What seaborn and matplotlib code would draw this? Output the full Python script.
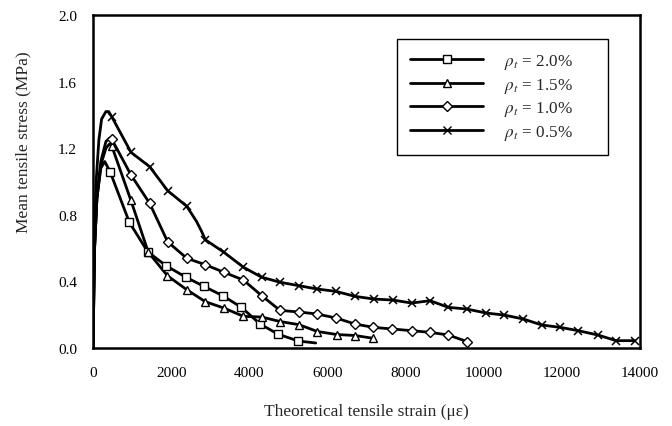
import numpy as np
import pandas as pd
import matplotlib
matplotlib.use('Agg')
import matplotlib.pyplot as plt
from matplotlib.lines import Line2D
import seaborn as sns

# Mean tensile stress vs theoretical tensile strain, four reinforcement ratios
labels = [r'$\rho_t$ = 2.0%', r'$\rho_t$ = 1.5%', r'$\rho_t$ = 1.0%', r'$\rho_t$ = 0.5%']
marker_styles = ['s', '^', 'D', 'x']

# curve points without markers (rising branch, bends, tails)
sq_line_x = [0, 40, 100, 200, 300, 5700]
sq_line_y = [0.0, 0.6, 0.9, 1.08, 1.12, 0.03]
sq_mark_x = [435, 930, 1400, 1870, 2380, 2840, 3320, 3800, 4275, 4745, 5255]
sq_mark_y = [1.06, 0.755, 0.578, 0.494, 0.425, 0.37, 0.314, 0.244, 0.144, 0.082, 0.042]

tr_line_x = [0, 40, 100, 200, 330, 420]
tr_line_y = [0.0, 0.6, 0.9, 1.1, 1.2, 1.225]
tr_mark_x = [478, 965, 1415, 1905, 2400, 2875, 3350, 3850, 4318, 4786, 5273, 5742, 6236, 6706, 7175]
tr_mark_y = [1.215, 0.89, 0.575, 0.434, 0.35, 0.278, 0.24, 0.19, 0.186, 0.159, 0.14, 0.099, 0.081, 0.075, 0.058]

di_line_x = [0, 40, 100, 200, 330, 420]
di_line_y = [0.0, 0.6, 0.9, 1.12, 1.24, 1.26]
di_mark_x = [478, 973, 1450, 1910, 2400, 2875, 3350, 3850, 4318, 4786, 5273, 5742, 6220,
             6706, 7175, 7660, 8155, 8626, 9095, 9580]
di_mark_y = [1.255, 1.039, 0.869, 0.638, 0.539, 0.5, 0.455, 0.408, 0.314, 0.226, 0.216, 0.204, 0.18,
             0.144, 0.124, 0.114, 0.104, 0.094, 0.078, 0.038]

cr_line_x = [0, 30, 80, 150, 220, 330, 400, 2650, 2780]
cr_line_y = [0.0, 0.6, 1.0, 1.25, 1.375, 1.42, 1.42, 0.76, 0.70]
cr_mark_x = [478, 973, 1450, 1910, 2400, 2875, 3350, 3850, 4318, 4786, 5273, 5742, 6220, 6706,
             7190, 7670, 8155, 8626, 9095, 9565, 10060, 10520, 11015, 11485, 11955, 12420,
             12920, 13390, 13870]
cr_mark_y = [1.39, 1.175, 1.089, 0.945, 0.851, 0.65, 0.575, 0.485, 0.425, 0.395, 0.374, 0.354, 0.34, 0.31,
             0.294, 0.288, 0.27, 0.284, 0.244, 0.234, 0.21, 0.198, 0.174, 0.138, 0.124, 0.104,
             0.078, 0.044, 0.044]

series = [
    (sq_line_x, sq_line_y, sq_mark_x, sq_mark_y),
    (tr_line_x, tr_line_y, tr_mark_x, tr_mark_y),
    (di_line_x, di_line_y, di_mark_x, di_mark_y),
    (cr_line_x, cr_line_y, cr_mark_x, cr_mark_y),
]
marker_sizes = {'s': 5.2, '^': 6.3, 'D': 4.6, 'x': 6.0}

sns.set_style('white')
plt.rcParams['font.family'] = ['Liberation Serif', 'DejaVu Serif']
plt.rcParams['mathtext.fontset'] = 'stix'

fig = plt.figure(figsize=(6.72, 4.27), dpi=100)
ax = fig.add_axes([0.1384, 0.1827, 0.8140, 0.7798])

handles = []
for (lx, ly, mx, my), lab, m in zip(series, labels, marker_styles):
    curve = pd.DataFrame({'strain': lx + mx, 'stress': ly + my}).sort_values('strain')
    sns.lineplot(data=curve, x='strain', y='stress', ax=ax, color='black', lw=2.0,
                 sort=True, estimator=None, legend=False)
    ms = marker_sizes[m]
    if m == 'x':
        ax.plot(mx, my, linestyle='none', marker='x', ms=ms, mew=1.1, color='black', zorder=3)
    else:
        ax.plot(mx, my, linestyle='none', marker=m, ms=ms, mew=1.0, mfc='white', mec='black', zorder=3)
    handles.append(Line2D([], [], color='black', lw=2.0, marker=m, ms=ms,
                          mfc='white', mec='black', mew=1.0))

ax.set_xlim(0, 14000)
ax.set_ylim(0, 2.0)
ax.set_xticks(np.arange(0, 14001, 2000))
ax.set_yticks(np.arange(0, 2.01, 0.4))
ax.set_yticklabels([f'{v:.1f}' for v in np.arange(0, 2.01, 0.4)])
ax.tick_params(direction='in', length=4, width=1, labelsize=11, colors='black')
ax.tick_params(axis='x', pad=13)
ax.tick_params(axis='y', pad=11.5)
for s in ax.spines.values():
    s.set_linewidth(1.8)
    s.set_color('black')

ax.set_xlabel('Theoretical tensile strain (\u03bc\u03b5)', fontsize=12.5, labelpad=17)
ax.set_ylabel('Mean tensile stress (MPa)', fontsize=12.5)
ax.yaxis.set_label_coords(-0.112, 0.62)

leg = ax.legend(handles, labels, loc='upper left', bbox_to_anchor=(0.5558, 0.5, 0.3857, 0.428),
                mode='expand', frameon=True, fancybox=False, framealpha=1, edgecolor='black',
                fontsize=12.3, handlelength=4.3, handletextpad=1.2, labelspacing=0.28,
                borderpad=0.75, borderaxespad=0)
leg.get_frame().set_linewidth(1.0)

fig.savefig('out.png', dpi=100)
